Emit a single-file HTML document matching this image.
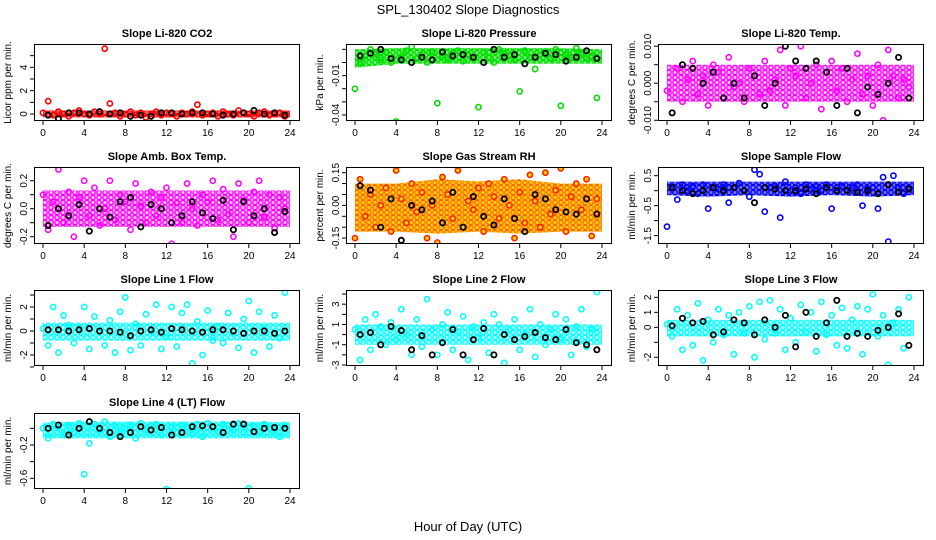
<!DOCTYPE html>
<html><head><meta charset="utf-8"><style>
html,body{margin:0;padding:0;background:#fff;}
svg{display:block;font-family:"Liberation Sans",Arial,sans-serif;}
</style></head><body>
<svg id="chart" width="936" height="540" viewBox="0 0 936 540">
<text x="468" y="14" text-anchor="middle" font-size="13">SPL_130402  Slope Diagnostics</text>
<text x="468" y="531" text-anchor="middle" font-size="13">Hour of Day (UTC)</text>
</svg>
<script>
const hours = [0,0.5,1,1.5,2,2.5,3,3.5,4,4.5,5,5.5,6,6.5,7,7.5,8,8.5,9,9.5,10,10.5,11,11.5,12,12.5,13,13.5,14,14.5,15,15.5,16,16.5,17,17.5,18,18.5,19,19.5,20,20.5,21,21.5,22,22.5,23,23.5];
const hoursBlack = [0.5,1.5,2.5,3.5,4.5,5.5,6.5,7.5,8.5,9.5,10.5,11.5,12.5,13.5,14.5,15.5,16.5,17.5,18.5,19.5,20.5,21.5,22.5,23.5];
const bandHours = [0,4,8,12,16,20,24];
const xTicks = [0,4,8,12,16,20,24];

const co2Vals = [0.1,1.1,-0.1,0.2,0,-0.2,0.1,0.3,0,-0.1,0.2,0,5.6,0.9,0.1,-0.2,0,0.2,-0.1,0.1,-0.3,0,0.2,-0.1,0.1,0,-0.2,0.1,0,0.2,0.8,-0.1,0,0.1,-0.2,0.2,0,-0.1,0.3,0.1,0,-0.2,0.1,0.2,-0.1,0,0.1,-0.2];
const co2Black = [-0.1,-0.4,0.1,0.1,0,0.2,0,0.1,-0.2,-0.1,-0.2,0.1,0.1,0,0.1,0.1,0,-0.1,0,0.1,0.3,0,0.1,-0.1];
const co2BandLo = [-0.3,-0.3,-0.3,-0.3,-0.3,-0.3,-0.3];
const co2BandHi = [0.3,0.3,0.3,0.3,0.3,0.3,0.3];

const presVals = [-0.02,0.0,0.005,0.01,0.006,0.002,0.008,0.0,-0.045,0.004,0.009,0.012,0.003,0.006,0.0,0.008,-0.031,0.005,0.002,0.007,0.009,0.001,0.006,0.003,-0.034,0.008,0.004,0.0,0.01,0.007,0.005,0.002,-0.022,0.009,0.004,-0.005,0.006,0.008,0.003,0.01,-0.033,0.006,0.004,0.011,0.007,0.003,0.005,-0.027];
const presBlack = [0.005,0.007,0.01,0.003,0.002,0.0,0.004,0.002,0.008,0.005,0.006,0.004,0.0,0.01,0.004,0.006,-0.001,0.004,0.007,0.006,0.001,0.004,0.009,0.003];
const presBandLo = [-0.004,-0.001,-0.001,-0.001,-0.001,-0.001,-0.001];
const presBandHi = [0.01,0.011,0.011,0.011,0.011,0.011,0.01];

const tempVals = [-0.002,-0.008,0.004,-0.005,0.001,0.006,-0.003,0.002,-0.006,0.005,0.003,-0.004,0.007,-0.001,0.0,-0.005,0.004,0.002,-0.003,0.006,-0.002,0.001,0.009,-0.006,0.004,0.002,0.01,-0.004,0.0,0.005,-0.007,0.003,0.006,-0.002,0.004,-0.005,0.001,0.008,-0.003,0.002,-0.006,0.005,-0.01,0.009,0.002,-0.004,0.001,-0.001];
const tempBlack = [-0.008,0.005,0.004,0.0,0.003,-0.004,0.0,-0.004,0.002,-0.006,0.0,0.01,0.006,0.004,0.006,0.003,-0.006,0.004,-0.008,-0.001,-0.003,0.0,0.007,-0.004];
const tempBandLo = [-0.005,-0.005,-0.005,-0.005,-0.005,-0.005,-0.005];
const tempBandHi = [0.005,0.005,0.005,0.005,0.005,0.005,0.005];

const ambVals = [0.1,-0.15,0.05,0.28,-0.1,0.12,-0.2,0.08,0.2,-0.05,0.15,-0.12,0.0,0.2,-0.08,0.1,0.05,-0.15,0.18,0.02,-0.1,0.12,-0.05,0.08,0.15,-0.25,0.04,-0.1,0.18,0.0,-0.12,0.1,0.05,0.2,-0.08,0.14,-0.04,-0.2,0.18,0.06,-0.1,0.12,0.2,-0.06,0.1,-0.14,0.08,0.0];
const ambBlack = [-0.12,0.0,-0.05,0.03,-0.16,0.0,-0.06,0.05,0.08,-0.13,0.03,0.0,-0.1,-0.05,0.05,-0.03,-0.07,0.06,-0.15,0.05,-0.05,0.0,-0.17,-0.02];
const ambBandLo = [-0.13,-0.13,-0.13,-0.13,-0.13,-0.13,-0.13];
const ambBandHi = [0.13,0.13,0.13,0.13,0.13,0.13,0.13];

const rhVals = [-0.15,0.12,-0.05,0.05,-0.1,0.0,0.08,-0.12,0.16,0.03,-0.08,0.1,-0.03,0.06,-0.15,0.0,-0.17,0.13,0.05,-0.06,0.16,-0.1,0.02,-0.02,0.08,-0.12,0.1,0.04,-0.06,0.12,0.0,-0.15,0.06,-0.08,0.14,0.02,-0.1,0.15,-0.04,0.07,0.17,-0.12,0.04,0.1,-0.02,0.12,-0.14,0.03];
const rhBlack = [0.09,0.07,-0.1,0.03,-0.16,0.0,-0.02,0.02,-0.08,0.06,-0.1,0.04,-0.05,-0.09,0.03,-0.06,-0.12,0.05,0.03,-0.02,-0.03,-0.04,0.03,-0.04];
const rhBandLo = [-0.12,-0.12,-0.13,-0.12,-0.13,-0.12,-0.12];
const rhBandHi = [0.1,0.1,0.12,0.11,0.12,0.1,0.1];

const flowVals = [-1.2,0.1,-0.3,0.2,0.0,0.15,-0.1,0.2,-0.6,0.1,0.05,0.2,-0.4,0.1,0.25,0.0,-0.2,0.7,0.55,-0.7,0.1,0.15,-0.9,0.3,0.0,0.1,-0.1,0.2,0.05,0.15,0.0,0.2,-0.6,0.1,0.15,0.0,0.1,0.2,-0.5,0.05,0.1,-0.6,0.45,-1.7,0.5,0.1,-0.1,0.1];
const flowBlack = [0.1,0.0,-0.1,0.0,0.1,0.0,0.1,0.0,-0.4,0.1,0.05,0.0,0.0,0.05,-0.1,0.1,0.0,0.0,-0.05,0.0,-0.1,0.2,-0.05,0.05];
const flowBandLo = [-0.15,-0.2,-0.15,-0.2,-0.15,-0.2,-0.15];
const flowBandHi = [0.3,0.3,0.3,0.3,0.3,0.3,0.3];

const l1Vals = [0.2,-1.2,2.0,-1.8,1.3,0.5,-1.0,0.3,2.0,-1.5,1.2,0.0,-1.2,0.9,-1.8,1.6,2.8,-1.6,0.6,-1.2,1.4,0.0,2.2,-1.5,-0.5,2.0,-1.3,1.5,2.2,-2.7,0.8,-2.0,1.7,-0.8,0.4,-1.0,1.5,0.0,-1.4,1.0,2.5,-1.8,1.6,0.2,-1.3,1.3,-0.6,3.2];
const l1Black = [0.1,0.1,0.0,0.1,0.2,0.0,0.0,-0.1,-0.4,0.0,0.1,-0.1,0.2,0.1,0.0,-0.1,0.1,0.1,0.0,-0.2,0.0,0.0,-0.2,0.0];
const l1BandLo = [-0.8,-0.8,-0.8,-0.8,-0.8,-0.8,-0.8];
const l1BandHi = [0.7,0.7,0.7,0.7,0.7,0.7,0.7];

const l2Vals = [0.5,-2.5,1.5,-1.5,2.0,0.8,-1.0,1.2,-0.5,2.5,0.0,-2.0,1.5,-1.2,3.5,0.5,-2.0,1.0,2.2,-1.5,0.3,1.8,-2.5,0.8,-0.3,1.2,-1.8,2.0,1.0,-2.8,0.5,1.5,-1.5,0.0,2.5,-2.2,1.0,-1.0,0.5,2.0,-0.5,1.5,-2.0,0.8,2.5,-1.2,0.5,4.2];
const l2Black = [0.0,0.2,-1.0,0.8,0.4,-1.5,-0.1,-2.0,-0.8,0.5,-2.0,-0.5,0.6,-2.0,0.0,-0.5,-0.2,0.2,-0.3,-0.5,0.5,-0.8,-1.0,-1.5];
const l2BandLo = [-1.0,-1.0,-1.0,-1.0,-1.0,-1.0,-1.0];
const l2BandHi = [1.0,1.0,1.0,1.0,1.0,1.0,1.0];

const l3Vals = [0.2,-0.6,1.2,-1.5,0.8,-1.2,1.6,-2.2,0.5,-1.0,1.2,-0.5,0.8,-1.8,1.0,-0.4,1.4,-2.0,1.7,-0.8,1.8,-0.4,1.2,-1.5,0.6,-1.0,1.5,-0.3,1.0,-1.6,1.7,-0.5,0.8,-1.2,1.3,-1.4,0.5,1.4,-1.8,1.2,2.2,-0.6,0.8,-2.5,0.3,1.2,-1.4,2.0];
const l3Black = [0.1,0.6,0.3,0.4,-0.5,-0.3,0.5,0.3,-0.5,0.5,0.0,0.8,-1.3,1.0,-0.6,0.3,1.8,-0.6,-0.4,-0.6,-0.2,0.0,0.9,-1.2];
const l3BandLo = [-0.6,-0.6,-0.6,-0.6,-0.6,-0.6,-0.6];
const l3BandHi = [0.5,0.5,0.5,0.5,0.5,0.5,0.5];

const l4Vals = [0.0,-0.12,0.05,0.02,-0.08,0.04,-0.05,0.06,-0.55,-0.18,0.05,-0.02,0.08,-0.1,0.03,-0.06,0.0,0.04,-0.12,0.06,-0.02,0.03,0.05,-0.08,-0.73,0.02,-0.05,0.04,0.01,-0.06,0.05,-0.1,0.06,0.02,-0.04,0.05,0.03,-0.02,0.06,-0.05,-0.72,0.03,-0.04,0.05,0.0,-0.03,-0.1,0.04];
const l4Black = [0.0,0.04,-0.08,0.0,0.08,0.0,-0.05,-0.1,-0.05,0.02,-0.02,0.01,-0.08,-0.05,0.02,0.03,0.02,-0.05,0.05,0.05,-0.04,0.0,0.01,0.0];
const l4BandLo = [-0.12,-0.12,-0.12,-0.12,-0.12,-0.12,-0.12];
const l4BandHi = [0.07,0.08,0.08,0.08,0.08,0.08,0.07];

const yTicks1 = [0,1,2,3,4,5];          const yLabels1 = ["0","","2","","4",""];
const yTicks2 = [0.01,0,-0.01,-0.02,-0.03,-0.04]; const yLabels2 = ["","","-0.01","","","-0.04"];
const yTicks3 = [-0.01,-0.005,0,0.005,0.01]; const yLabels3 = ["-0.010","","0.000","","0.010"];
const yTicks4 = [-0.2,-0.1,0,0.1,0.2];  const yLabels4 = ["-0.2","","0.0","","0.2"];
const yTicks5 = [-0.15,-0.1,-0.05,0,0.05,0.1,0.15]; const yLabels5 = ["-0.15","","","0.00","","","0.15"];
const yTicks6 = [0.5,0,-0.5,-1,-1.5];   const yLabels6 = ["0.5","","-0.5","","-1.5"];
const yTicks7 = [-3,-2,-1,0,1,2,3];     const yLabels7 = ["","-2","","0","","2",""];
const yTicks8 = [-3,-2,-1,0,1,2,3,4];   const yLabels8 = ["-3","","-1","","1","","3",""];
const yTicks9 = [-2,-1,0,1,2];          const yLabels9 = ["-2","","0","1","2"];
const yTicks10 = [0,-0.2,-0.4,-0.6];    const yLabels10 = ["","-0.2","","-0.6"];

const panels = [
 {id:"co2", title:"Slope Li-820 CO2", ylab:"Licor ppm per min.", box:[34,44,300,121], xr:[43,290], y0:-0.6, y1:6.0, vals:co2Vals, black:co2Black, lo:co2BandLo, hi:co2BandHi, ticks:yTicks1, labels:yLabels1, col:"#ff0000", fill:"none", op:0.55, ringW:1.3},
 {id:"pressure", title:"Slope Li-820 Pressure", ylab:"kPa per min.", box:[346,44,612,121], xr:[355,602], y0:-0.0446, y1:0.0141, vals:presVals, black:presBlack, lo:presBandLo, hi:presBandHi, ticks:yTicks2, labels:yLabels2, col:"#00dd00", fill:"none", op:0.55, ringW:1.3},
 {id:"temp", title:"Slope Li-820 Temp.", ylab:"degrees C per min.", box:[658,44,924,121], xr:[667,914], y0:-0.0102, y1:0.0106, vals:tempVals, black:tempBlack, lo:tempBandLo, hi:tempBandHi, ticks:yTicks3, labels:yLabels3, col:"#ff00ff", fill:"none", op:0.25, ringW:1.3},
 {id:"amb-box-temp", title:"Slope Amb. Box Temp.", ylab:"degrees C per min.", box:[34,167,300,244], xr:[43,290], y0:-0.252, y1:0.298, vals:ambVals, black:ambBlack, lo:ambBandLo, hi:ambBandHi, ticks:yTicks4, labels:yLabels4, col:"#ff00ff", fill:"none", op:0.25, ringW:1.3},
 {id:"gas-rh", title:"Slope Gas Stream RH", ylab:"percent per min.", box:[346,167,612,244], xr:[355,602], y0:-0.177, y1:0.176, vals:rhVals, black:rhBlack, lo:rhBandLo, hi:rhBandHi, ticks:yTicks5, labels:yLabels5, col:"#ff2000", fill:"#ffd000", op:0.95, bandCol:"#ffc400", ringW:0.6},
 {id:"sample-flow", title:"Slope Sample Flow", ylab:"ml/min per min.", box:[658,167,924,244], xr:[667,914], y0:-1.78, y1:0.79, vals:flowVals, black:flowBlack, lo:flowBandLo, hi:flowBandHi, ticks:yTicks6, labels:yLabels6, col:"#0000ff", fill:"none", op:0.55, ringW:1.3},
 {id:"line1-flow", title:"Slope Line 1 Flow", ylab:"ml/min per min.", box:[34,290,300,366], xr:[43,290], y0:-2.92, y1:3.42, vals:l1Vals, black:l1Black, lo:l1BandLo, hi:l1BandHi, ticks:yTicks7, labels:yLabels7, col:"#00ffff", fill:"none", op:0.3, ringW:1.3},
 {id:"line2-flow", title:"Slope Line 2 Flow", ylab:"ml/min per min.", box:[346,290,612,366], xr:[355,602], y0:-3.1, y1:4.4, vals:l2Vals, black:l2Black, lo:l2BandLo, hi:l2BandHi, ticks:yTicks8, labels:yLabels8, col:"#00ffff", fill:"none", op:0.3, ringW:1.3},
 {id:"line3-flow", title:"Slope Line 3 Flow", ylab:"ml/min per min.", box:[658,290,924,366], xr:[667,914], y0:-2.58, y1:2.49, vals:l3Vals, black:l3Black, lo:l3BandLo, hi:l3BandHi, ticks:yTicks9, labels:yLabels9, col:"#00ffff", fill:"none", op:0.3, ringW:1.3},
 {id:"line4-flow", title:"Slope Line 4 (LT) Flow", ylab:"ml/min per min.", box:[34,413,300,489], xr:[43,290], y0:-0.728, y1:0.184, vals:l4Vals, black:l4Black, lo:l4BandLo, hi:l4BandHi, ticks:yTicks10, labels:yLabels10, col:"#00ffff", fill:"none", op:0.5, ringW:1.3}
];

const NS = "http://www.w3.org/2000/svg";
const svg = document.getElementById("chart");
function mk(tag, attrs, parent){
  const e = document.createElementNS(NS, tag);
  for (const k in attrs) e.setAttribute(k, attrs[k]);
  parent.appendChild(e);
  return e;
}
const defs = mk("defs", {}, svg);

panels.forEach(p => {
  const [L,T,R,B] = p.box;
  const xs = h => p.xr[0] + (h/24)*(p.xr[1]-p.xr[0]);
  const ys = v => B - (v - p.y0)/(p.y1 - p.y0)*(B - T);
  const g = mk("g", {}, svg);
  
  

  const patId = "pat-" + p.id;
  const pat = mk("pattern", {id:patId, width:6, height:5, patternUnits:"userSpaceOnUse"}, defs);
  mk("rect", {x:0, y:0, width:6, height:5, fill:p.bandCol||p.col, "fill-opacity":p.op}, pat);
  mk("circle", {cx:3, cy:2.5, r:2.2, fill:"none", stroke:p.col, "stroke-width":p.ringW}, pat);

  const t = mk("text", {x:(L+R)/2, y:T-7, "text-anchor":"middle", "font-size":"11", "font-weight":"bold"}, g);
  t.textContent = p.title;
  
  

  const clipId = "clip-" + p.id;
  const cp = mk("clipPath", {id:clipId}, g);
  mk("rect", {x:L, y:T, width:R-L, height:B-T}, cp);
  const plot = mk("g", {"clip-path":"url(#"+clipId+")"}, g);
  
  

  let d = "";
  bandHours.forEach((h,i)=>{ d += (i?"L":"M") + xs(h) + "," + ys(p.hi[i]); });
  for (let i = bandHours.length-1; i>=0; i--) d += "L" + xs(bandHours[i]) + "," + ys(p.lo[i]);
  d += "Z";
  const band = mk("path", {d:d, fill:"url(#"+patId+")"}, plot);
  
  

  p.vals.forEach((v,i)=>{
    const c = mk("circle", {cx:xs(hours[i]), cy:ys(v), r:2.6, fill:p.fill, stroke:p.col, "stroke-width":1.6}, plot);
    
    
  });
  p.black.forEach((v,i)=>{
    const c = mk("circle", {cx:xs(hoursBlack[i]), cy:ys(v), r:2.6, fill:"none", stroke:"#000", "stroke-width":1.8}, plot);
    
    
  });

  const frame = mk("rect", {x:L+0.5, y:T+0.5, width:R-L-1, height:B-T-1, fill:"none", stroke:"#000", "stroke-width":1}, g);
  
  

  const xa = mk("g", {}, g);
  
  
  xTicks.forEach(h=>{
    mk("line", {x1:xs(h), x2:xs(h), y1:B, y2:B+4, stroke:"#000"}, xa);
    const lt = mk("text", {x:xs(h), y:B+15, "text-anchor":"middle", "font-size":"10"}, xa);
    lt.textContent = h;
  });
  const ya = mk("g", {}, g);
  
  
  p.ticks.forEach((v,i)=>{
    const y = ys(v);
    if (y < T-1 || y > B+1) return;
    mk("line", {x1:L-4, x2:L, y1:y, y2:y, stroke:"#000"}, ya);
    if (p.labels[i]) {
      const lt = mk("text", {x:L-7, y:y, "text-anchor":"middle", "font-size":"10", transform:"rotate(-90 "+(L-7)+" "+y+")"}, ya);
      lt.textContent = p.labels[i];
    }
  });
  const yl = mk("text", {x:L-23, y:(T+B)/2, "text-anchor":"middle", "font-size":"10", transform:"rotate(-90 "+(L-23)+" "+((T+B)/2)+")"}, g);
  yl.textContent = p.ylab;
  
  
});
</script>
</body></html>
